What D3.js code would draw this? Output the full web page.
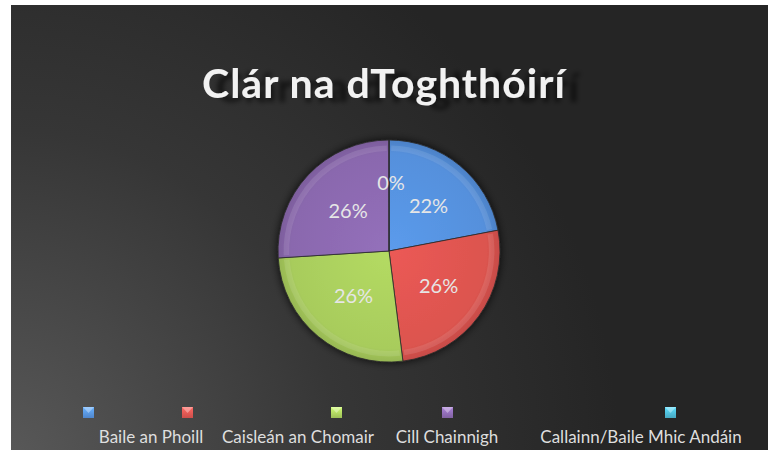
<!DOCTYPE html>
<html>
<head>
<meta charset="utf-8">
<script src="https://cdn.jsdelivr.net/npm/d3@7"></script>
<style>
  html, body { margin: 0; padding: 0; background: #fff; }
  svg { display: block; }
</style>
</head>
<body>
<div id="chart"></div>
<script>
const title = "Clár na dToghthóirí";
const categories = ["Baile an Phoill", "Caisleán an Chomair", "Cill Chainnigh", "Callainn/Baile Mhic Andáin", ""];
const values = [22, 26, 26, 26, 0];
const colors = ["#5590dc", "#dc544f", "#a8cc5c", "#8a68ae", "#4bb4d0"];

const W = 768, H = 450;
const svg = d3.select("#chart").append("svg").attr("width", W).attr("height", H);
const defs = svg.append("defs");

// background
const bg = defs.append("radialGradient").attr("id", "bg")
  .attr("gradientUnits", "userSpaceOnUse")
  .attr("cx", 0).attr("cy", 470).attr("r", 620);
bg.append("stop").attr("offset", "0%").attr("stop-color", "#5a5a5a");
bg.append("stop").attr("offset", "55%").attr("stop-color", "#363636");
bg.append("stop").attr("offset", "100%").attr("stop-color", "#252525");
svg.append("rect").attr("x", 11).attr("y", 5).attr("width", W - 11).attr("height", H - 5)
  .attr("fill", "url(#bg)");

// title with dark blurred reflection
const tshadow = defs.append("filter").attr("id", "tshadow").attr("x", "-20%").attr("y", "-50%").attr("width", "140%").attr("height", "200%");
tshadow.append("feGaussianBlur").attr("in", "SourceAlpha").attr("stdDeviation", 2.5).attr("result", "b");
tshadow.append("feOffset").attr("in", "b").attr("dx", 14).attr("dy", 4).attr("result", "o");
tshadow.append("feFlood").attr("flood-color", "#000").attr("flood-opacity", 0.6);
tshadow.append("feComposite").attr("in2", "o").attr("operator", "in").attr("result", "s");
const tm = tshadow.append("feMerge");
tm.append("feMergeNode").attr("in", "s");
tm.append("feMergeNode").attr("in", "SourceGraphic");

svg.append("text").attr("x", 384).attr("y", 98).attr("text-anchor", "middle")
  .attr("font-family", "Lato, 'Open Sans', sans-serif").attr("font-weight", "bold").attr("font-size", 41)
  .attr("fill", "#f2f2f2").attr("letter-spacing", 1).attr("filter", "url(#tshadow)")
  .text(title);

// pie
const cx = 389, cy = 251, r = 111;
const g = svg.append("g").attr("transform", `translate(${cx},${cy})`);

const shadow = defs.append("filter").attr("id", "shadow").attr("x", "-30%").attr("y", "-30%").attr("width", "160%").attr("height", "160%");
shadow.append("feGaussianBlur").attr("in", "SourceAlpha").attr("stdDeviation", 4).attr("result", "b");
shadow.append("feFlood").attr("flood-color", "#000").attr("flood-opacity", 0.8);
shadow.append("feComposite").attr("in2", "b").attr("operator", "in").attr("result", "s");
const fm = shadow.append("feMerge");
fm.append("feMergeNode").attr("in", "s");
fm.append("feMergeNode").attr("in", "SourceGraphic");

colors.forEach((c, i) => {
  const gr = defs.append("radialGradient").attr("id", "sl" + i)
    .attr("gradientUnits", "userSpaceOnUse").attr("cx", 0).attr("cy", 0).attr("r", r);
  gr.append("stop").attr("offset", "0%").attr("stop-color", d3.color(c).brighter(0.2));
  gr.append("stop").attr("offset", "88%").attr("stop-color", c);
  gr.append("stop").attr("offset", "100%").attr("stop-color", d3.color(c).darker(0.3));
});

const pie = d3.pie().sort(null).value(d => d);
const arcs = pie(values);
const arc = d3.arc().innerRadius(0).outerRadius(r);
const labelArc = d3.arc().innerRadius(r * 0.53).outerRadius(r * 0.53);

const pg = g.append("g").attr("filter", "url(#shadow)");
pg.selectAll("path.slice").data(arcs).enter().append("path")
  .attr("class", "slice")
  .attr("d", arc)
  .attr("fill", (d, i) => `url(#sl${i})`)
  .attr("stroke", "#2a2a2a").attr("stroke-width", 0.8);

// bevel highlight on inner side of rim
g.selectAll("path.bevel").data(arcs.filter(d => d.value > 0)).enter().append("path")
  .attr("class", "bevel")
  .attr("d", d3.arc().innerRadius(r * 0.9).outerRadius(r * 0.95).padAngle(0.03))
  .attr("fill", "#fff").attr("opacity", 0.1);

const total = d3.sum(values);
g.selectAll("text.lbl").data(arcs).enter().append("text")
  .attr("class", "lbl")
  .attr("transform", d => {
    const [x, y] = labelArc.centroid(d);
    return d.value === 0 ? `translate(${x + 2},${y - 9})` : `translate(${x + 2},${y})`;
  })
  .attr("text-anchor", "middle").attr("dy", "0.35em")
  .attr("font-family", "Lato, 'Open Sans', sans-serif").attr("font-size", 20)
  .attr("fill", "#e6e6e6")
  .text(d => Math.round(d.value / total * 100) + "%");

// legend
const markerX = [88, 187, 336, 447, 670];
const labelX = [151, 298, 447, 641];
const lg = svg.append("g");
colors.forEach((c, i) => {
  const mg = defs.append("linearGradient").attr("id", "mk" + i).attr("x1", 0).attr("y1", 0).attr("x2", 0).attr("y2", 1);
  mg.append("stop").attr("offset", "0%").attr("stop-color", d3.color(c).brighter(0.6));
  mg.append("stop").attr("offset", "100%").attr("stop-color", d3.color(c).darker(0.2));
  lg.append("rect").attr("x", markerX[i] - 5).attr("y", 407).attr("width", 11).attr("height", 11)
    .attr("fill", `url(#mk${i})`);
  lg.append("path").attr("d", `M${markerX[i] - 5},407 L${markerX[i] + 0.5},413 L${markerX[i] + 6},407 Z`)
    .attr("fill", "#fff").attr("opacity", 0.35);
});
categories.filter(t => t).forEach((t, i) => {
  lg.append("text").attr("x", labelX[i]).attr("y", 443).attr("text-anchor", "middle")
    .attr("font-family", "Lato, 'Open Sans', sans-serif").attr("font-size", 17)
    .attr("fill", "#dedede").text(t);
});
</script>
</body>
</html>
